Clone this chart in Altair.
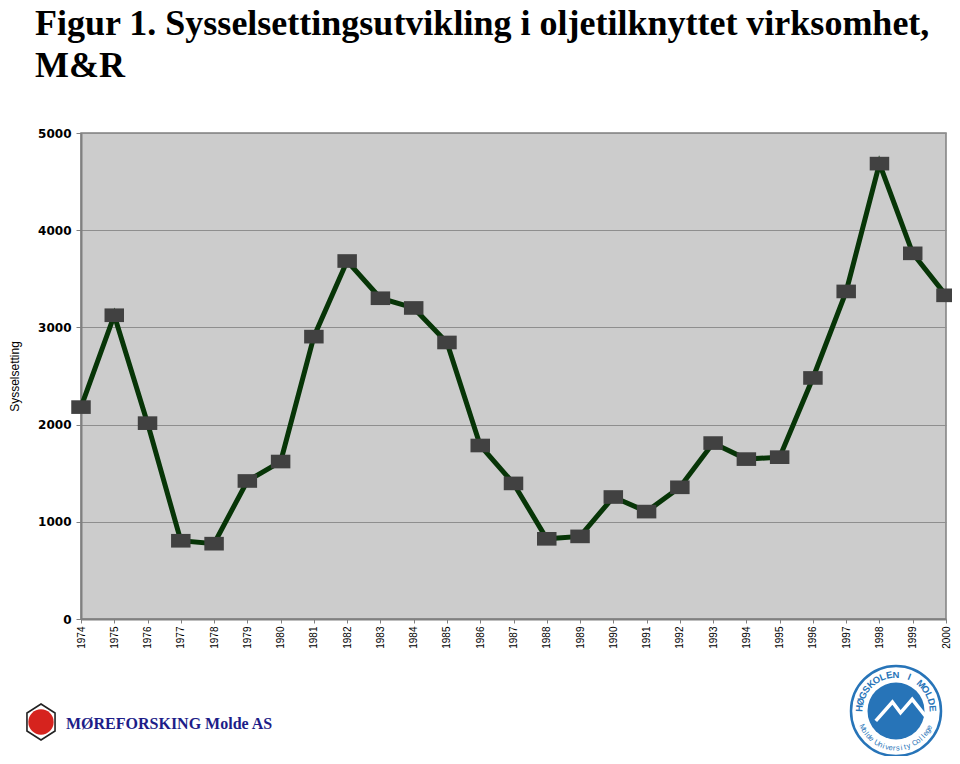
import altair as alt
import pandas as pd
import numpy as np

# ---- data ----
years = ["1974", "1975", "1976", "1977", "1978", "1979", "1980", "1981", "1982",
         "1983", "1984", "1985", "1986", "1987", "1988", "1989", "1990", "1991",
         "1992", "1993", "1994", "1995", "1996", "1997", "1998", "1999", "2000"]
sysselsetting = [2180, 3125, 2015, 805, 775, 1420, 1620, 2905, 3683,
                 3300, 3200, 2845, 1785, 1395, 825, 850, 1255, 1105,
                 1355, 1810, 1645, 1665, 2480, 3370, 4685, 3762, 3330]
y_ticks = [0, 1000, 2000, 3000, 4000, 5000]
title_lines = ["Figur 1. Sysselsettingsutvikling i oljetilknyttet virksomhet,", "M&R"]
y_title = "Sysselsetting"
logo_left_text = "MØREFORSKING Molde AS"
logo_right_top = "HØGSKOLEN I MOLDE"
logo_right_bottom = "Molde University College"

df = pd.DataFrame({"År": years, "Sysselsetting": sysselsetting})

W, H = 865, 486

x_enc = alt.X("År:O", sort=years, title=None,
              scale=alt.Scale(type="point", padding=0),
              axis=alt.Axis(labelAngle=270, labelFont="Liberation Sans", labelFontSize=10,
                            labelColor="black", labelPadding=3, tickSize=4,
                            tickColor="#808080", domainColor="#808080", domainWidth=2,
                            grid=False))
y_enc = alt.Y("Sysselsetting:Q", title=y_title,
              scale=alt.Scale(domain=[0, 5000], nice=False),
              axis=alt.Axis(values=y_ticks, format="d", labelFont="DejaVu Sans",
                            labelFontWeight="bold", labelFontSize=12, labelColor="black",
                            labelPadding=5, tickSize=5, tickColor="#808080",
                            domainColor="#808080", domainWidth=2,
                            gridColor="#8e8e8e", gridWidth=1,
                            titleFont="Liberation Sans", titleFontSize=12,
                            titleFontWeight="normal", titleColor="black",
                            titlePadding=16))

base = alt.Chart(df).encode(x=x_enc, y=y_enc)
line = base.mark_line(color="#073507", strokeWidth=5)
rect_shape = "M-1,-0.7L1,-0.7L1,0.7L-1,0.7Z"
points = base.mark_point(shape=rect_shape, size=380, filled=True,
                         color="#414141", opacity=1)
main = alt.layer(line, points)

# ---- logos (decoration below the chart) ----
one = pd.DataFrame({"k": [0]})
hex_shape = "M0,-1L0.78,-0.5L0.78,0.5L0,1L-0.78,0.5L-0.78,-0.5Z"
left_hex = alt.Chart(one).mark_point(shape=hex_shape, size=1296, filled=False,
                                     stroke="#222222", strokeWidth=1.6, opacity=1).encode(
    x=alt.value(-40), y=alt.value(589))
left_disk = alt.Chart(one).mark_point(shape="circle", size=640, filled=True,
                                      color="#d6231e", opacity=1).encode(
    x=alt.value(-40), y=alt.value(589))
left_text = alt.Chart(one).mark_text(text=logo_left_text, font="Liberation Serif",
                                     fontWeight="bold", fontSize=16, color="#1d1d88",
                                     align="left", baseline="alphabetic").encode(
    x=alt.value(-15), y=alt.value(596))

cx, cy = 815, 578
blue = "#2774b8"
outer = alt.Chart(one).mark_point(shape="circle", size=8100, filled=True, fill="white",
                                  stroke=blue, strokeWidth=2.5, opacity=1).encode(
    x=alt.value(cx), y=alt.value(cy))
inner = alt.Chart(one).mark_point(shape="circle", size=3249, filled=True,
                                  color=blue, opacity=1).encode(
    x=alt.value(cx), y=alt.value(cy))
mountain_shape = "M-0.45,0.22L-0.08,-0.2L0.1,0.04L0.36,-0.26L0.66,0.12"
mountain = alt.Chart(one).mark_point(shape=mountain_shape, size=8100, filled=False,
                                     stroke="white", strokeWidth=3.5, opacity=1).encode(
    x=alt.value(cx), y=alt.value(cy))

def arc_letters(text, r, t0, t1, top):
    th = np.radians(np.linspace(t0, t1, len(text)))
    xs = cx + r * np.cos(th)
    ys = cy - r * np.sin(th)
    deg = np.degrees(th)
    rot = ((90 - deg) if top else (270 - deg)) % 360
    return pd.DataFrame({"ch": list(text), "lx": xs, "ly": ys, "rot": rot})

top_df = arc_letters(logo_right_top, 36.5, 176, 4, True)
bot_df = arc_letters(logo_right_bottom, 37.5, 206, 334, False)

def letters(d, fs, weight):
    return alt.Chart(d).mark_text(font="Liberation Sans", fontSize=fs, fontWeight=weight,
                                  color=blue, align="center", baseline="middle").encode(
        x=alt.X("lx:Q", scale=None, axis=None),
        y=alt.Y("ly:Q", scale=None, axis=None),
        angle=alt.Angle("rot:Q", scale=None),
        text="ch:N")

top_letters = letters(top_df, 9.5, "bold")
bot_letters = letters(bot_df, 7.5, "normal")

chart = alt.layer(main, left_hex, left_disk, left_text, outer, inner, mountain,
                  top_letters, bot_letters).resolve_scale(
    x="independent", y="independent"
).properties(
    width=W, height=H,
    autosize=alt.AutoSizeParams(type="none"),
    padding={"left": 73, "top": 125, "right": 6, "bottom": 137},
    title=alt.TitleParams(title_lines, font="Liberation Serif", fontSize=36,
                          fontWeight="bold", color="black", anchor="start",
                          frame="group", dx=-46, offset=42, lineHeight=42),
    background="white",
).configure_view(fill="#cccccc", stroke="#808080", strokeWidth=1.5)

chart.save("out.html", embed_options={"renderer": "svg", "actions": False})
